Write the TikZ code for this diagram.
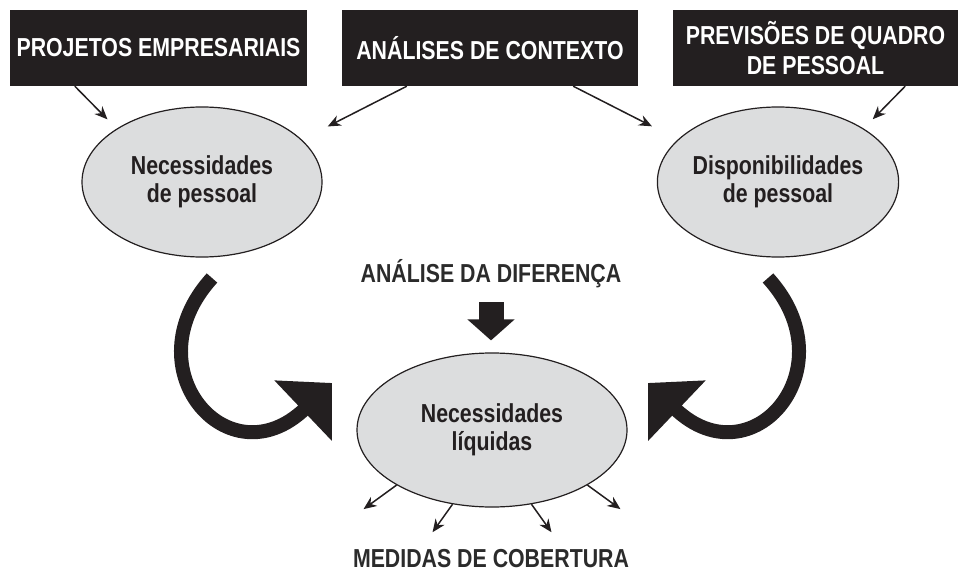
\documentclass[tikz,border=0pt]{standalone}
\usepackage{fontspec}
\setmainfont[FakeStretch=0.82]{Liberation Sans}
\usetikzlibrary{arrows.meta,shapes.geometric}
\definecolor{boxblack}{HTML}{231F20}
\definecolor{ellgray}{HTML}{DCDDDE}
\definecolor{inkgray}{HTML}{2B2B2B}

\begin{document}
\begin{tikzpicture}[x=1pt, y=-1pt,
            topbox/.style={fill=boxblack, text=white, minimum height=76pt, inner sep=0pt, align=center, font=\fontsize{26}{30}\selectfont\bfseries},
            pool/.style={ellipse, draw=boxblack, line width=1.2pt, fill=ellgray, text=boxblack, inner sep=0pt, align=center, font=\fontsize{26}{28}\selectfont\bfseries},
            label/.style={text=inkgray, inner sep=0pt, font=\fontsize{26}{30}\selectfont\bfseries},
            thin/.style={-{Stealth[length=13pt, width=11pt]}, line width=1.5pt, draw=boxblack},
            bigarrow/.style={-{Triangle[length=40pt, width=81pt]}, line width=14pt, draw=boxblack},
            blockarrow/.style={-{Triangle[length=21pt, width=46pt]}, line width=25pt, draw=boxblack}
        ]
        \useasboundingbox (0,0) rectangle (960,572);

        % Input boxes
        \node[topbox, minimum width=297pt] (proj) at (158.5,48) {PROJETOS EMPRESARIAIS};
        \node[topbox, minimum width=296pt] (ctx) at (490,48) {ANÁLISES DE CONTEXTO};
        \node[topbox, minimum width=285pt] (prev) at (815.5,48) {PREVISÕES DE QUADRO\\DE PESSOAL};

        % Ellipses
        \node[pool, minimum width=240pt, minimum height=150pt] (necp) at (202,182) {Necessidades\\de pessoal};
        \node[pool, minimum width=240pt, minimum height=150pt] (disp) at (778,182) {Disponibilidades\\de pessoal};
        \node[pool, minimum width=270pt, minimum height=154pt] (liq) at (492,430) {Necessidades\\líquidas};

        % Labels
        \node[label] (diff) at (491,274) {ANÁLISE DA DIFERENÇA};
        \node[label] (cover) at (491,559) {MEDIDAS DE COBERTURA};

        % Arrows from the boxes
        \draw[thin, shorten >=13pt] ([xshift=65pt]proj.south west) -- (necp.148);
        \draw[thin, shorten >=29pt] ([xshift=65pt]ctx.south west) -- (necp.23);
        \draw[thin, shorten >=29pt] ([xshift=-65pt]ctx.south east) -- (disp.157);
        \draw[thin, shorten >=13pt] ([xshift=-53pt]prev.south east) -- (disp.32);

        % Curved arrows
        \coordinate (ltail) at (212,278);
        \coordinate (ltip) at (332,383);
        \coordinate (rtail) at (768,278);
        \coordinate (rtip) at (648,383);
        \draw[bigarrow] (ltail) .. controls (130,368) and (228,482) .. (ltip);
        \draw[bigarrow] (rtail) .. controls (850,368) and (752,482) .. (rtip);

        % Difference arrow
        \draw[blockarrow] ([yshift=-14pt]diff.south) -- ++(0,38);

        % Covering measures
        \draw[thin] (liq.210) -- ++(-33,24);
        \draw[thin] (liq.242) -- ++(-20,28);
        \draw[thin] (liq.298) -- ++(20,28);
        \draw[thin] (liq.330) -- ++(33,24);
    \end{tikzpicture}
\end{document}
